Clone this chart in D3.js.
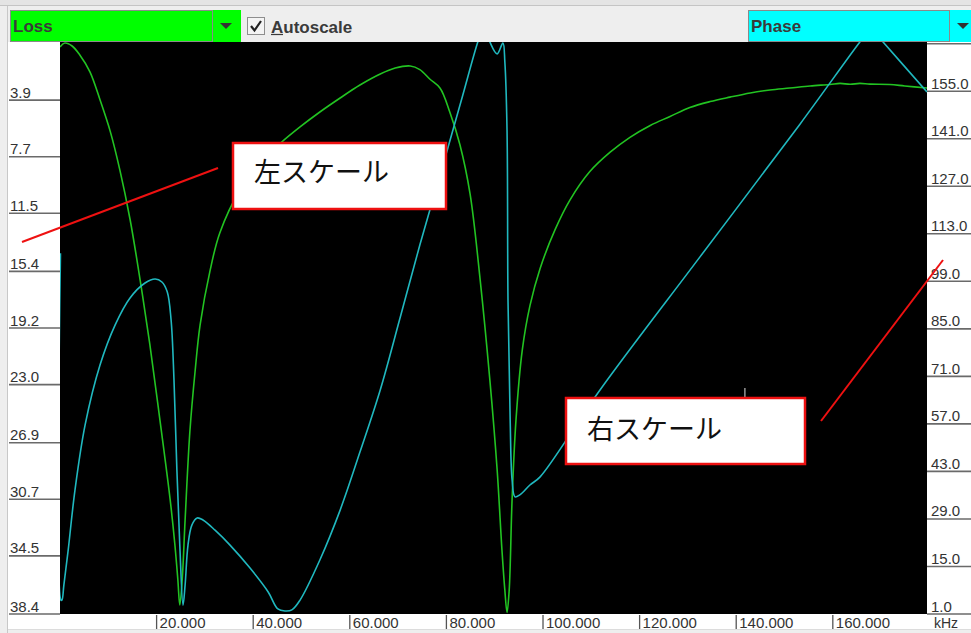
<!DOCTYPE html>
<html>
<head>
<meta charset="utf-8">
<script src="https://cdn.jsdelivr.net/npm/d3@7/dist/d3.min.js"></script>
<style>
  html, body { margin: 0; padding: 0; background: #eeeeee; }
  svg { display: block; }
</style>
</head>
<body>
<svg id="chart" width="971" height="633"></svg>
<script>
// ---- data ----
const freqTicks = [20, 40, 60, 80, 100, 120, 140, 160];            // kHz
const lossTicks = [3.9, 7.7, 11.5, 15.4, 19.2, 23.0, 26.9, 30.7, 34.5, 38.4];
const phaseTicks = [1, 15, 29, 43, 57, 71, 85, 99, 113, 127, 141, 155, 169];

// Loss trace (left scale)
const lossFreq = [0, 1.0, 2.5, 4.1, 6.2, 8.3, 10.4, 12.4, 14.5, 16.6, 18.6, 20.7, 22.8, 23.8, 24.4, 24.8,
  25.3, 25.9, 26.9, 28.0, 29.0, 31.1, 33.1, 37.3, 41.4, 45.6, 49.7, 53.8, 58.0, 62.1, 66.3, 69.4, 72.5,
  74.5, 76.6, 78.7, 80.7, 82.8, 84.9, 87.0, 89.0, 90.5, 91.5, 92.1, 92.55, 93.0, 93.6, 94.4, 95.7, 97.3,
  99.4, 102.5, 105.6, 109.7, 113.9, 118.0, 122.2, 126.3, 130.4, 134.6, 138.7, 142.9, 147.0, 151.1, 155.3,
  159.4, 161.5, 163.6, 165.6, 167.7, 171.8, 174.9, 179.5];
const lossValues = [0.34, 0.07, 0.27, 0.87, 2.0, 3.9, 6.0, 8.6, 11.9, 16.0, 20.3, 25.4, 30.7, 33.8, 36.1, 37.8,
  36.1, 32.1, 26.1, 22.0, 19.0, 15.3, 12.8, 9.9, 8.1, 6.8, 5.7, 4.7, 3.76, 2.89, 2.15, 1.75, 1.61,
  1.85, 2.5, 3.1, 4.7, 6.9, 10.2, 16.0, 22.7, 28.7, 34.1, 36.8, 38.3, 36.8, 30.7, 25.4, 20.7, 17.7,
  15.2, 12.6, 10.6, 8.7, 7.4, 6.4, 5.6, 5.0, 4.4, 4.0, 3.7, 3.42, 3.22, 3.09, 2.95,
  2.85, 2.78, 2.84, 2.78, 2.83, 2.85, 2.95, 3.09];

// Phase trace (right scale)
const phaseFreq = [0.1, 0.2, 0.4, 0.8, 1.7, 3.1, 5.2, 8.3, 11.4, 14.5, 17.6, 19.7, 21.1, 22.2, 23.0, 23.6,
  24.2, 24.8, 25.47, 25.9, 26.5, 27.3, 28.4, 29.6, 32.1, 35.2, 39.3, 43.1, 45.1, 46.6, 48.0, 49.7, 53.8,
  58.0, 62.1, 66.3, 70.4, 74.5, 80.3, 83.4, 86.5, 87.8, 89.0, 90.5, 91.7, 92.1, 92.55, 92.75, 93.2, 93.6,
  94.2, 95.2, 97.3, 99.4, 111.8, 132.5, 153.2, 165.6, 167.9, 170.4, 179.5];
const phaseValues = [107.3, 5.1, 5.1, 9.5, 19.9, 37.5, 56.7, 74.4, 86.1, 94.1, 98.5, 99.7, 98.8, 95.9, 87.6, 69.9,
  43.4, 21.3, 3.6, 9.5, 21.3, 27.2, 29.3, 28.7, 25.7, 21.3, 14.6, 7.5, 2.5, 1.9, 2.2, 5.1, 16.9,
  31.6, 48.7, 67.0, 88.2, 109.7, 138.3, 153.9, 169.5, 174.5, 169.5, 166.0, 169.2, 163.6, 143.6, 93.5, 58.2, 40.5,
  35.5, 36.1, 39.0, 41.4, 67.0, 106.2, 145.3, 169.5, 173.6, 169.5, 154.8];

// cursor marker on the phase trace
const markerFreq = [141.8];
const markerPhase = [64.6, 67.6];

// ---- layout ----
const W = 971, H = 633;
const plot = { left: 60, top: 42, right: 927, bottom: 614 };
const svg = d3.select("#chart");
const uiFont = "'Liberation Sans', Arial, sans-serif";
const jpFont = "'Noto Sans CJK JP', 'Noto Sans CJK SC', sans-serif";

const x = d3.scaleLinear().domain([0, 179.5]).range([plot.left, plot.right]);
const yLoss = d3.scaleLinear().domain([0, 38.4]).range([plot.top, plot.bottom]);
const yPhase = d3.scaleLinear().domain([1, 169.5]).range([plot.bottom, plot.top]);

// window chrome
svg.append("rect").attr("x", 0).attr("y", 0).attr("width", W).attr("height", H).attr("fill", "#eeeeee");
svg.append("rect").attr("x", 0).attr("y", 0).attr("width", W).attr("height", 5).attr("fill", "#e4e4e4");
svg.append("line").attr("x1", 0).attr("x2", W).attr("y1", 5.5).attr("y2", 5.5).attr("stroke", "#c4c4c4");
// white axis panels
svg.append("rect").attr("x", 8).attr("y", plot.top).attr("width", W - 8).attr("height", 629 - plot.top).attr("fill", "#ffffff");
svg.append("line").attr("x1", 7.5).attr("x2", 7.5).attr("y1", 6).attr("y2", H).attr("stroke", "#c8c8c8");
svg.append("line").attr("x1", 8).attr("x2", W).attr("y1", 629.5).attr("y2", 629.5).attr("stroke", "#dcdcdc");

// plot background
svg.append("rect").attr("x", plot.left).attr("y", plot.top)
  .attr("width", plot.right - plot.left).attr("height", plot.bottom - plot.top).attr("fill", "#000000");

// left axis (Loss)
const gL = svg.append("g");
gL.selectAll("line").data(lossTicks).join("line")
  .attr("x1", 9).attr("x2", plot.left)
  .attr("y1", d => yLoss(d)).attr("y2", d => yLoss(d))
  .attr("stroke", "#6a6a6a").attr("stroke-width", 1.6);
gL.selectAll("text").data(lossTicks).join("text")
  .attr("x", 10).attr("y", d => yLoss(d) - 2.5)
  .attr("font-family", uiFont).attr("font-size", 15).attr("fill", "#333")
  .text(d => d.toFixed(1));

// right axis (Phase)
const gR = svg.append("g");
gR.selectAll("line").data(phaseTicks).join("line")
  .attr("x1", plot.right).attr("x2", W)
  .attr("y1", d => yPhase(d)).attr("y2", d => yPhase(d))
  .attr("stroke", "#6a6a6a").attr("stroke-width", 1.6);
gR.selectAll("text").data(phaseTicks).join("text")
  .attr("x", 931).attr("y", d => yPhase(d) - 2.5)
  .attr("font-family", uiFont).attr("font-size", 15).attr("fill", "#333")
  .text(d => d.toFixed(1));

// bottom axis (frequency)
const gB = svg.append("g");
gB.selectAll("line").data(freqTicks).join("line")
  .attr("x1", d => x(d)).attr("x2", d => x(d))
  .attr("y1", plot.bottom + 1).attr("y2", 629)
  .attr("stroke", "#555").attr("stroke-width", 1.3);
gB.selectAll("text").data(freqTicks).join("text")
  .attr("x", d => x(d) + 3).attr("y", 627.5)
  .attr("font-family", uiFont).attr("font-size", 15).attr("fill", "#333")
  .text(d => d3.format(".3f")(d));
gB.append("text").attr("x", 934).attr("y", 627.5)
  .attr("font-family", uiFont).attr("font-size", 14).attr("fill", "#333").text("kHz");

// traces
svg.append("clipPath").attr("id", "plotClip").append("rect")
  .attr("x", plot.left).attr("y", plot.top)
  .attr("width", plot.right - plot.left).attr("height", plot.bottom - plot.top);
const traces = svg.append("g").attr("clip-path", "url(#plotClip)");

const smooth = d3.curveCatmullRom.alpha(0.5);

const lossLine = d3.line().curve(smooth).x((d, i) => x(lossFreq[i])).y(d => yLoss(d));
traces.append("path").datum(lossValues).attr("d", lossLine)
  .attr("fill", "none").attr("stroke", "#22c322").attr("stroke-width", 1.6).attr("stroke-linejoin", "round");

const phaseLine = d3.line().curve(smooth).x((d, i) => x(phaseFreq[i])).y(d => yPhase(d));
traces.append("path").datum(phaseValues).attr("d", phaseLine)
  .attr("fill", "none").attr("stroke", "#20b8bf").attr("stroke-width", 1.6).attr("stroke-linejoin", "round");

traces.append("line")
  .attr("x1", x(markerFreq[0])).attr("x2", x(markerFreq[0]))
  .attr("y1", yPhase(markerPhase[0])).attr("y2", yPhase(markerPhase[1]))
  .attr("stroke", "#bbbbbb").attr("stroke-width", 1.2);

// ---- toolbar ----
function combo(x0, w, color, label) {
  const g = svg.append("g");
  g.append("rect").attr("x", x0 + 0.5).attr("y", 10.5).attr("width", w).attr("height", 31)
    .attr("fill", color).attr("stroke", "#8a8a8a");
  g.append("rect").attr("x", x0 + w + 1).attr("y", 10).attr("width", 28).attr("height", 32).attr("fill", color);
  const cx = x0 + w + 14, cy = 26;
  g.append("path").attr("d", `M${cx - 6},${cy - 3}L${cx + 6},${cy - 3}L${cx},${cy + 3}Z`).attr("fill", "#333");
  g.append("text").attr("x", x0 + 3).attr("y", 32).attr("font-family", uiFont)
    .attr("font-size", 17).attr("font-weight", "bold").attr("fill", "#3a3a3a").text(label);
}
combo(10, 202, "#00ff00", "Loss");
combo(748, 201, "#00ffff", "Phase");

// autoscale checkbox
svg.append("rect").attr("x", 247.5).attr("y", 17.5).attr("width", 17).attr("height", 17)
  .attr("fill", "#f4f4f4").attr("stroke", "#8e8e8e");
svg.append("path").attr("d", "M251,26 L254.5,30.5 L261,21").attr("fill", "none")
  .attr("stroke", "#222").attr("stroke-width", 2.2);
svg.append("text").attr("x", 271).attr("y", 32.5).attr("font-family", uiFont)
  .attr("font-size", 17).attr("font-weight", "bold").attr("fill", "#3a3a3a").text("Autoscale");
svg.append("line").attr("x1", 271).attr("x2", 283).attr("y1", 34.5).attr("y2", 34.5)
  .attr("stroke", "#3a3a3a").attr("stroke-width", 1.2);

// ---- callouts ----
const callouts = [
  { text: "左スケール", box: [233, 143, 213, 66], tx: 254, ty: 182, line: [22, 242, 218, 168] },
  { text: "右スケール", box: [566, 398, 239, 66], tx: 587, ty: 439, line: [821, 421, 943, 260] }
];
callouts.forEach(c => {
  svg.append("line").attr("x1", c.line[0]).attr("y1", c.line[1]).attr("x2", c.line[2]).attr("y2", c.line[3])
    .attr("stroke", "#ee1111").attr("stroke-width", 2);
  svg.append("rect").attr("x", c.box[0]).attr("y", c.box[1]).attr("width", c.box[2]).attr("height", c.box[3])
    .attr("fill", "#ffffff").attr("stroke", "#ee1111").attr("stroke-width", 2.5);
  svg.append("text").attr("x", c.tx).attr("y", c.ty).attr("font-family", jpFont)
    .attr("font-size", 27).attr("fill", "#111").text(c.text);
});
</script>
</body>
</html>
